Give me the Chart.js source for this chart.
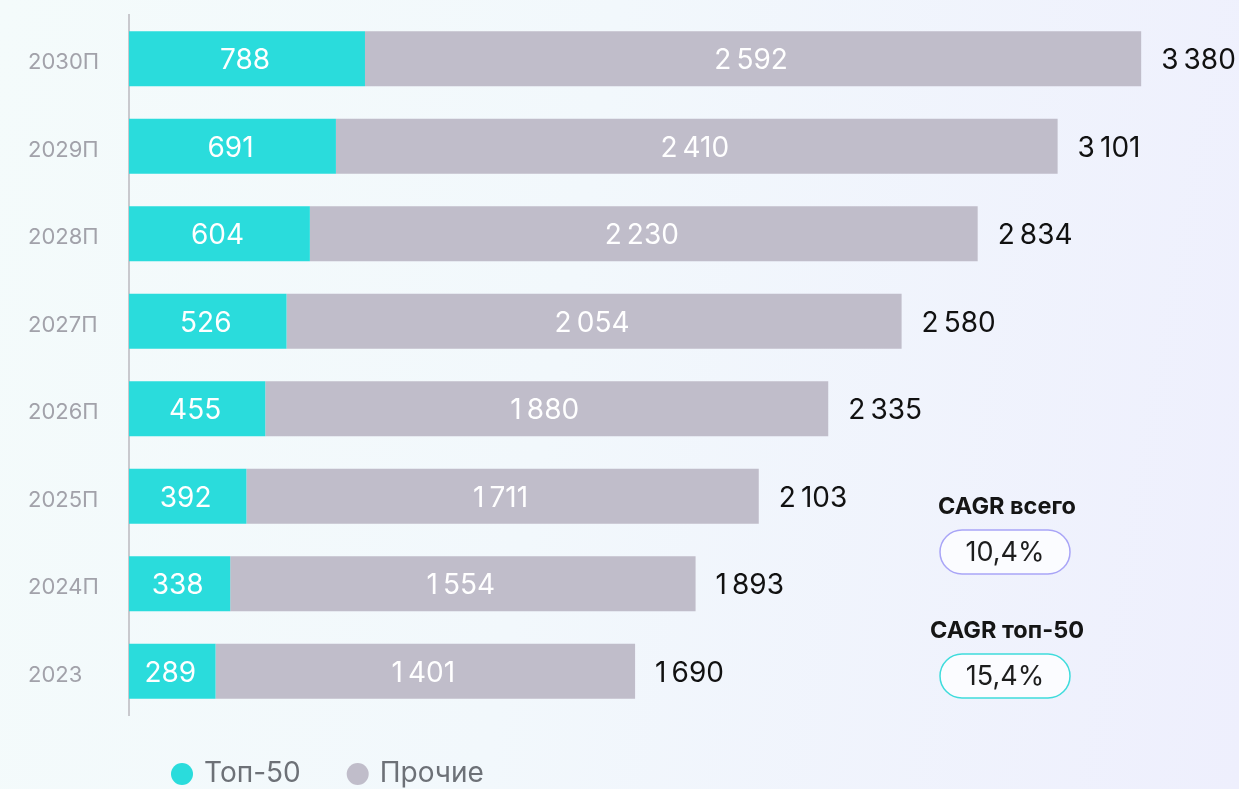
<!DOCTYPE html>
<html lang="ru">
<head>
<meta charset="utf-8">
<script src="https://cdn.jsdelivr.net/npm/chart.js@4"></script>
<style>
  html, body { margin: 0; padding: 0; }
  body {
    width: 1239px;
    height: 789px;
    overflow: hidden;
    background: linear-gradient(100deg, #f4fbfb 0%, #f2f8fc 45%, #eeeffd 100%);
  }
  #wrap { position: relative; width: 1239px; height: 789px; }
</style>
</head>
<body>
<div id="wrap"><canvas id="marketChart"></canvas></div>
<script>
const years = ["2030П", "2029П", "2028П", "2027П", "2026П", "2025П", "2024П", "2023"];
const top50 = [788, 691, 604, 526, 455, 392, 338, 289];
const others = [2592, 2410, 2230, 2054, 1880, 1711, 1554, 1401];
const totals = [3380, 3101, 2834, 2580, 2335, 2103, 1893, 1690];
const seriesNames = ["Топ-50", "Прочие"];
const cagrTitles = ["CAGR всего", "CAGR топ-50"];
const cagrValues = ["10,4%", "15,4%"];

const cyan = "#2adcdc";
const grey = "#c0bdca";
const fontFamily = "Inter, 'Noto Sans', sans-serif";

// thin space between thousands, like "3 380"
function fmt(v) {
  return String(v).replace(/\B(?=(\d{3})+(?!\d))/g, "\u2009");
}

// values inside the bars + totals on the right
const barLabels = {
  id: "barLabels",
  afterDatasetsDraw(chart) {
    const ctx = chart.ctx;
    ctx.save();
    ctx.font = "400 28px " + fontFamily;
    ctx.textBaseline = "middle";
    chart.data.datasets.forEach((ds, i) => {
      const meta = chart.getDatasetMeta(i);
      meta.data.forEach((bar, j) => {
        const { x, y, base } = bar.getProps(["x", "y", "base"], true);
        ctx.fillStyle = "#ffffff";
        ctx.textAlign = "center";
        ctx.fillText(fmt(ds.data[j]), (x + base) / 2 - 2, y + 2);
        if (i === chart.data.datasets.length - 1) {
          ctx.fillStyle = "#111111";
          ctx.textAlign = "left";
          ctx.fillText(fmt(totals[j]), x + 20, y + 2);
        }
      });
    });
    ctx.restore();
  }
};

// legend at the bottom and CAGR badges
const extras = {
  id: "extras",
  afterDraw(chart) {
    const ctx = chart.ctx;
    ctx.save();
    // legend
    ctx.font = "400 28px " + fontFamily;
    ctx.textBaseline = "middle";
    ctx.textAlign = "left";
    let lx = 171;
    const ly = 774;
    chart.data.datasets.forEach(ds => {
      ctx.fillStyle = ds.backgroundColor;
      ctx.beginPath();
      ctx.arc(lx + 11, ly, 11, 0, Math.PI * 2);
      ctx.fill();
      ctx.fillStyle = "#6d7177";
      ctx.fillText(ds.label, lx + 33, ly);
      lx += 33 + ctx.measureText(ds.label).width + 46;
    });

    // CAGR
    const borders = ["#a9a5f7", "#3fdcdc"];
    const tops = [507, 631];
    cagrTitles.forEach((t, i) => {
      const cy = tops[i];
      ctx.font = "700 23.5px " + fontFamily;
      ctx.fillStyle = "#151515";
      ctx.textAlign = "center";
      ctx.fillText(t, 1007, cy);
      const bx = 940, by = cy + 23, bw = 130, bh = 44, r = 22;
      ctx.beginPath();
      ctx.roundRect(bx, by, bw, bh, r);
      ctx.fillStyle = "#fbfcff";
      ctx.fill();
      ctx.lineWidth = 1.5;
      ctx.strokeStyle = borders[i];
      ctx.stroke();
      ctx.font = "400 27px " + fontFamily;
      ctx.fillStyle = "#1d1d1d";
      ctx.fillText(cagrValues[i], bx + bw / 2, by + bh / 2 + 1);
    });
    ctx.restore();
  }
};

new Chart(document.getElementById("marketChart"), {
  type: "bar",
  data: {
    labels: years,
    datasets: [
      { label: seriesNames[0], data: top50, backgroundColor: cyan },
      { label: seriesNames[1], data: others, backgroundColor: grey }
    ]
  },
  options: {
    indexAxis: "y",
    responsive: true,
    maintainAspectRatio: false,
    animation: false,
    layout: { padding: { top: 15, right: 2, bottom: 74, left: 28 } },
    datasets: { bar: { categoryPercentage: 1, barPercentage: 0.63, borderWidth: 0 } },
    scales: {
      x: { stacked: true, display: false, min: 0, max: 3700 },
      y: {
        stacked: true,
        grid: { display: false, drawTicks: false },
        border: { display: true, color: "#c9c9ce", width: 2 },
        ticks: {
          color: "#a2a2aa",
          padding: 28,
          crossAlign: "far",
          labelOffset: 4,
          font: { family: fontFamily, size: 22 }
        },
        afterFit(scale) {
          scale.width = 101;
          scale.paddingTop = 0;
          scale.paddingBottom = 0;
        }
      }
    },
    plugins: {
      legend: { display: false },
      tooltip: { enabled: false }
    }
  },
  plugins: [barLabels, extras]
});
</script>
</body>
</html>
